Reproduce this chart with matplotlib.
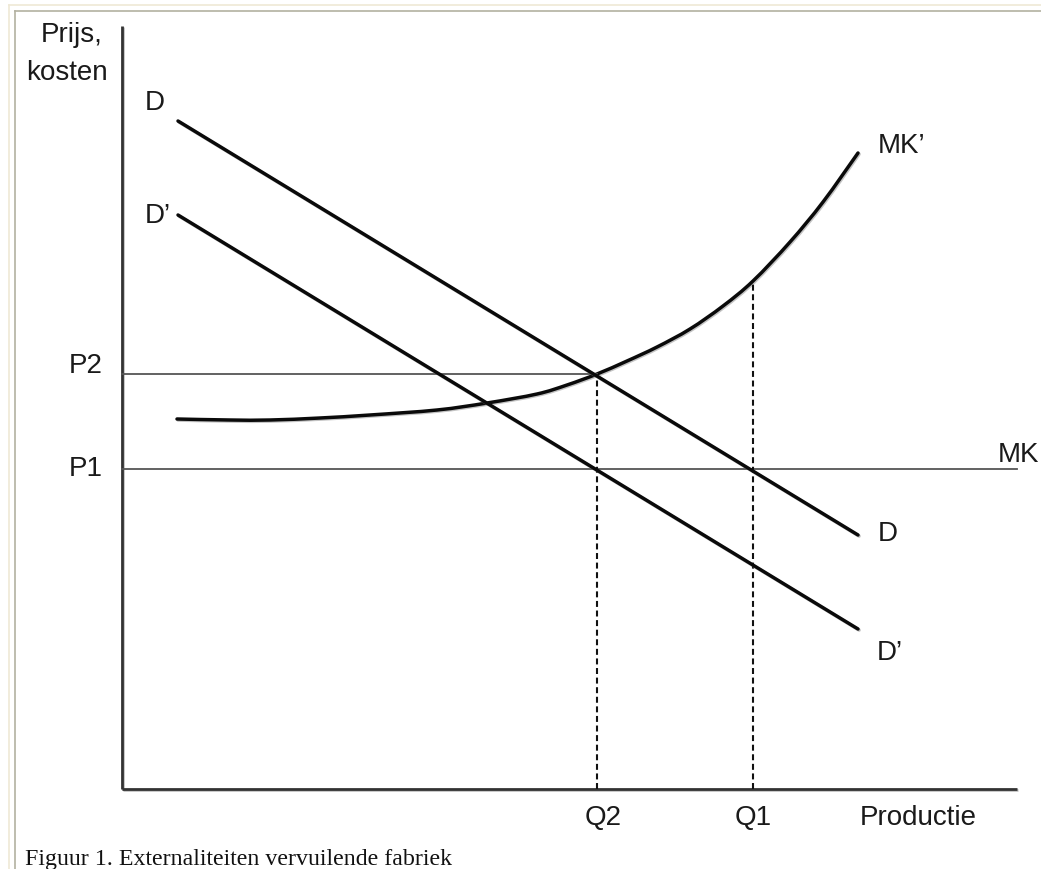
import matplotlib
matplotlib.use("Agg")
import matplotlib.pyplot as plt
import matplotlib.patheffects as pe
from matplotlib.lines import Line2D
from matplotlib.path import Path
from matplotlib.patches import PathPatch

plt.rcParams['lines.scale_dashes'] = False

# ---- data (abstract units: quantity 0..895, price 0..763) ----
X_MAX = 895
Y_MAX = 763

D_x = [56, 736]
D_y = [668, 254]
Dp_x = [56, 736]
Dp_y = [574, 160]

MKp_x = [55, 108, 148, 198, 248, 315, 365, 415, 445, 475, 505, 535, 568, 601, 631, 668, 701, 736]
MKp_y = [370, 369, 369, 371, 374, 379, 386, 395, 404, 415, 428, 442, 460, 483, 508, 547, 587, 636]

P1 = 320    # MK level
P2 = 415
Q2 = 475
Q1 = 631
MKp_at_Q1 = 508

tick_labels_y = ["P2", "P1"]
tick_labels_x = ["Q2", "Q1"]

W, H = 1041, 870
fig = plt.figure(figsize=(W / 100, H / 100), dpi=100)
fig.patch.set_facecolor('white')

def fx(x):
    return x / W
def fy(y):
    return 1 - y / H

# page frame
fig.add_artist(Line2D([fx(9), fx(9)], [fy(6), fy(870)], color='#efe9d6', lw=1.2))
fig.add_artist(Line2D([fx(9), fx(1041)], [fy(6), fy(6)], color='#efe9d6', lw=1.2))
fig.add_artist(Line2D([fx(15), fx(15)], [fy(12), fy(870)], color='#b3b1a1', lw=1.2))
fig.add_artist(Line2D([fx(15), fx(1041)], [fy(12), fy(12)], color='#b3b1a1', lw=1.2))

ax = fig.add_axes([122 / W, (H - 790) / H, X_MAX / W, Y_MAX / H])
ax.set_xlim(0, X_MAX)
ax.set_ylim(0, Y_MAX)
ax.axis('off')

shadow = [pe.SimpleLineShadow(offset=(0.8, -0.8), shadow_color='#888888', alpha=0.5), pe.Normal()]

# axes
ax.plot([0, 0], [0, Y_MAX], color='#333333', lw=2.0, clip_on=False, path_effects=shadow, solid_capstyle='butt')
ax.plot([0, X_MAX], [0, 0], color='#333333', lw=2.0, clip_on=False, path_effects=shadow, solid_capstyle='butt')

# price levels
ax.plot([0, Q2], [P2, P2], color='#555555', lw=1.3, clip_on=False)
ax.plot([0, X_MAX], [P1, P1], color='#555555', lw=1.3, clip_on=False)

# dashed verticals
ax.plot([Q2, Q2], [0, P2], color='#111111', lw=1.5, linestyle=(0, (4.3, 2.6)), clip_on=False)
ax.plot([Q1, Q1], [0, MKp_at_Q1], color='#111111', lw=1.5, linestyle=(0, (4.3, 2.6)), clip_on=False)

# demand lines
ax.plot(D_x, D_y, color='#0a0a0a', lw=2.5, clip_on=False, path_effects=shadow, solid_capstyle='round')
ax.plot(Dp_x, Dp_y, color='#0a0a0a', lw=2.5, clip_on=False, path_effects=shadow, solid_capstyle='round')

# MK' as a smooth path through the read points (Catmull-Rom -> cubic Bezier)
pts = list(zip(MKp_x, MKp_y))
verts = [pts[0]]
codes = [Path.MOVETO]
n = len(pts)
for i in range(n - 1):
    p0 = pts[i - 1] if i > 0 else pts[i]
    p1 = pts[i]
    p2 = pts[i + 1]
    p3 = pts[i + 2] if i + 2 < n else pts[i + 1]
    c1 = (p1[0] + (p2[0] - p0[0]) / 6, p1[1] + (p2[1] - p0[1]) / 6)
    c2 = (p2[0] - (p3[0] - p1[0]) / 6, p2[1] - (p3[1] - p1[1]) / 6)
    verts += [c1, c2, p2]
    codes += [Path.CURVE4] * 3
mk_patch = PathPatch(Path(verts, codes), facecolor='none', edgecolor='#0a0a0a', lw=2.5,
                     capstyle='round', joinstyle='round', clip_on=False, path_effects=shadow)
ax.add_patch(mk_patch)

def px(x, y):
    return x - 122, 790 - y

FS = 20
sans = ['Liberation Sans', 'DejaVu Sans']
def label(x, y, s, ha='left'):
    ax.text(*px(x, y), s, fontsize=FS, family=sans, ha=ha, va='baseline', color='#1a1a1a', clip_on=False)

label(72, 42, "Prijs,", ha='center')
label(67, 80, "kosten", ha='center')
label(145, 110, "D")
label(145, 223, "D’")
label(103, 373, tick_labels_y[0], ha='right')
label(103, 476, tick_labels_y[1], ha='right')
label(878, 153, "MK’")
label(998, 462, "MK")
label(878, 541, "D")
label(877, 660, "D’")
label(603, 825, tick_labels_x[0], ha='center')
label(753, 825, tick_labels_x[1], ha='center')
label(860, 825, "Productie")

fig.text(fx(25), fy(865), "Figuur 1. Externaliteiten vervuilende fabriek", fontsize=17.2,
         family=['Liberation Serif', 'DejaVu Serif'], ha='left', va='baseline', color='#111111')

fig.savefig("out.png", dpi=100, facecolor='white')
